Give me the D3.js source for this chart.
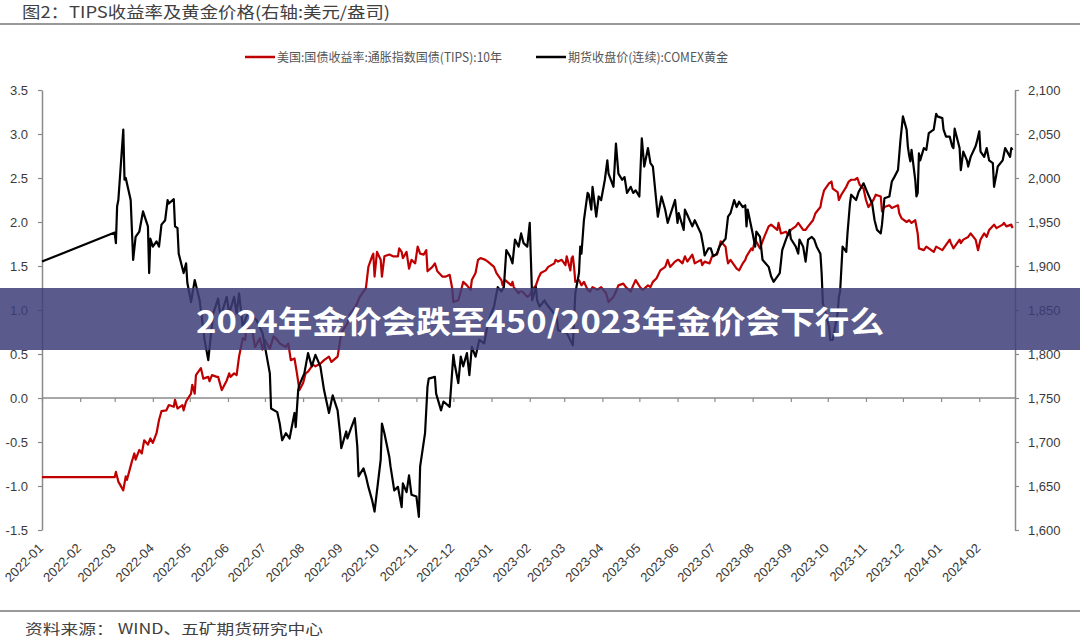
<!DOCTYPE html>
<html><head><meta charset="utf-8">
<script src="https://cdn.jsdelivr.net/npm/d3@7"></script>
<style>
html,body{margin:0;padding:0;background:#fff;}
svg{display:block;}
</style></head>
<body>
<svg id="c" width="1080" height="639"></svg>
<script>
// ---------- DATA ----------
const titleText = "图2：TIPS收益率及黄金价格(右轴:美元/盎司)";
const sourceText = "资料来源：  WIND、五矿期货研究中心";
const bannerText = "2024年金价会跌至450/2023年金价会下行么";
const seriesNames = ["美国:国债收益率:通胀指数国债(TIPS):10年", "期货收盘价(连续):COMEX黄金"];
const leftTicks = [-1.5,-1.0,-0.5,0.0,0.5,1.0,1.5,2.0,2.5,3.0,3.5];
const rightTicks = [1600,1650,1700,1750,1800,1850,1900,1950,2000,2050,2100];
const monthLabels = ["2022-01","2022-02","2022-03","2022-04","2022-05","2022-06","2022-07","2022-08","2022-09","2022-10","2022-11","2022-12",
  "2023-01","2023-02","2023-03","2023-04","2023-05","2023-06","2023-07","2023-08","2023-09","2023-10","2023-11","2023-12","2024-01","2024-02"];

const tipsDates = ["2022-01-01","2022-03-01","2022-03-02","2022-03-04","2022-03-08","2022-03-10","2022-03-11","2022-03-15","2022-03-17","2022-03-18",
"2022-03-21","2022-03-23","2022-03-25","2022-03-28","2022-03-30","2022-04-01","2022-04-04","2022-04-06","2022-04-08","2022-04-12",
"2022-04-14","2022-04-18","2022-04-19","2022-04-21","2022-04-25","2022-04-26","2022-04-28","2022-05-02","2022-05-03","2022-05-05",
"2022-05-06","2022-05-10","2022-05-12","2022-05-16","2022-05-17","2022-05-19","2022-05-23","2022-05-24","2022-05-27","2022-05-31",
"2022-06-02","2022-06-03","2022-06-06","2022-06-08","2022-06-10","2022-06-13","2022-06-15","2022-06-16","2022-06-21","2022-06-23",
"2022-06-27","2022-06-29","2022-07-01","2022-07-05","2022-07-08","2022-07-11","2022-07-13","2022-07-18","2022-07-20","2022-07-22",
"2022-07-25","2022-07-27","2022-07-29","2022-08-01","2022-08-03","2022-08-05","2022-08-09","2022-08-11","2022-08-15","2022-08-18",
"2022-08-22","2022-08-24","2022-08-29","2022-08-30","2022-09-01","2022-09-06","2022-09-08","2022-09-13","2022-09-16","2022-09-21",
"2022-09-23","2022-09-26","2022-09-27","2022-09-28","2022-09-30","2022-10-03","2022-10-04","2022-10-06","2022-10-10","2022-10-13",
"2022-10-17","2022-10-18","2022-10-20","2022-10-21","2022-10-24","2022-10-26","2022-10-28","2022-10-31","2022-11-02","2022-11-04",
"2022-11-07","2022-11-09","2022-11-10","2022-11-14","2022-11-16","2022-11-18","2022-11-22","2022-11-25","2022-11-28","2022-11-30",
"2022-12-01","2022-12-05","2022-12-07","2022-12-09","2022-12-12","2022-12-15","2022-12-16","2022-12-19","2022-12-21","2022-12-23",
"2022-12-27","2022-12-29","2023-01-03","2023-01-05","2023-01-09","2023-01-10","2023-01-12","2023-01-17","2023-01-18","2023-01-19",
"2023-01-23","2023-01-24","2023-01-26","2023-01-30","2023-02-01","2023-02-03","2023-02-06","2023-02-08","2023-02-10","2023-02-14",
"2023-02-16","2023-02-21","2023-02-22","2023-02-24","2023-02-27","2023-03-02","2023-03-03","2023-03-06","2023-03-07","2023-03-08",
"2023-03-09","2023-03-10","2023-03-13","2023-03-15","2023-03-17","2023-03-20","2023-03-22","2023-03-24","2023-03-28","2023-03-31",
"2023-04-04","2023-04-06","2023-04-10","2023-04-12","2023-04-14","2023-04-18","2023-04-20","2023-04-24","2023-04-26","2023-04-28",
"2023-05-02","2023-05-04","2023-05-08","2023-05-10","2023-05-12","2023-05-15","2023-05-18","2023-05-22","2023-05-24","2023-05-26",
"2023-05-30","2023-06-01","2023-06-02","2023-06-05","2023-06-07","2023-06-09","2023-06-13","2023-06-15","2023-06-20","2023-06-21",
"2023-06-23","2023-06-27","2023-06-29","2023-07-03","2023-07-05","2023-07-06","2023-07-10","2023-07-11","2023-07-12","2023-07-14",
"2023-07-17","2023-07-19","2023-07-21","2023-07-24","2023-07-26","2023-07-27","2023-07-31","2023-08-01","2023-08-03","2023-08-07",
"2023-08-09","2023-08-11","2023-08-14","2023-08-16","2023-08-21","2023-08-22","2023-08-24","2023-08-28","2023-08-30","2023-09-01",
"2023-09-05","2023-09-07","2023-09-11","2023-09-13","2023-09-15","2023-09-19","2023-09-21","2023-09-25","2023-09-26","2023-09-28",
"2023-10-02","2023-10-04","2023-10-05","2023-10-09","2023-10-10","2023-10-12","2023-10-16","2023-10-18","2023-10-20","2023-10-23",
"2023-10-25","2023-10-27","2023-10-30","2023-11-01","2023-11-03","2023-11-07","2023-11-09","2023-11-13","2023-11-14","2023-11-16",
"2023-11-20","2023-11-22","2023-11-27","2023-11-28","2023-11-30","2023-12-04","2023-12-06","2023-12-08","2023-12-11","2023-12-13",
"2023-12-14","2023-12-18","2023-12-20","2023-12-22","2023-12-26","2023-12-28","2024-01-02","2024-01-04","2024-01-08","2024-01-09",
"2024-01-11","2024-01-16","2024-01-17","2024-01-19","2024-01-23","2024-01-25","2024-01-29","2024-01-31","2024-02-02","2024-02-05",
"2024-02-07","2024-02-09","2024-02-13","2024-02-15","2024-02-20","2024-02-21","2024-02-23","2024-02-27","2024-02-28"];
const tipsValues = [-0.90,-0.90,-0.84,-0.95,-1.05,-0.89,-0.93,-0.72,-0.63,-0.70,
-0.59,-0.63,-0.48,-0.53,-0.46,-0.51,-0.40,-0.25,-0.15,-0.14,
-0.08,-0.10,-0.02,-0.12,-0.08,-0.14,-0.04,0.05,0.15,0.05,
0.26,0.34,0.22,0.24,0.19,0.26,0.24,0.24,0.09,0.20,
0.28,0.24,0.28,0.26,0.47,0.68,0.66,0.81,0.74,0.58,
0.68,0.55,0.66,0.56,0.70,0.66,0.62,0.58,0.62,0.43,
0.45,0.28,0.09,0.17,0.28,0.30,0.38,0.36,0.39,0.43,
0.47,0.41,0.47,0.56,0.74,0.85,0.95,1.05,1.15,1.25,
1.49,1.61,1.64,1.38,1.66,1.57,1.38,1.61,1.63,1.61,
1.61,1.70,1.66,1.59,1.66,1.47,1.57,1.53,1.72,1.64,
1.63,1.68,1.44,1.49,1.53,1.44,1.38,1.38,1.40,1.25,
1.09,1.11,1.21,1.32,1.28,1.23,1.34,1.42,1.57,1.59,
1.57,1.55,1.49,1.42,1.34,1.28,1.34,1.28,1.32,1.26,
1.19,1.21,1.21,1.15,1.17,1.23,1.28,1.36,1.42,1.45,
1.49,1.53,1.57,1.55,1.57,1.51,1.61,1.45,1.59,1.61,
1.49,1.32,1.34,1.28,1.32,1.23,1.21,1.26,1.23,1.26,
1.19,1.09,1.15,1.21,1.28,1.30,1.26,1.21,1.28,1.34,
1.25,1.23,1.28,1.26,1.32,1.36,1.45,1.49,1.57,1.49,
1.55,1.57,1.57,1.53,1.61,1.55,1.63,1.53,1.57,1.51,
1.55,1.53,1.61,1.63,1.72,1.78,1.72,1.61,1.53,1.57,
1.51,1.47,1.45,1.53,1.57,1.61,1.70,1.68,1.80,1.70,
1.78,1.85,1.95,1.97,1.91,1.99,1.87,1.89,1.85,1.91,
1.95,1.99,1.91,1.91,1.95,2.02,2.10,2.17,2.25,2.36,
2.44,2.46,2.38,2.34,2.25,2.31,2.40,2.46,2.48,2.48,
2.50,2.42,2.38,2.25,2.17,2.25,2.31,2.29,2.12,2.17,
2.19,2.16,2.19,2.10,2.04,2.00,2.02,1.99,2.02,1.87,
1.70,1.68,1.72,1.70,1.66,1.72,1.68,1.72,1.80,1.76,
1.70,1.80,1.76,1.80,1.83,1.87,1.80,1.68,1.80,1.87,
1.83,1.91,1.97,1.93,1.97,1.99,1.95,1.97,1.93];

const goldDates = ["2022-01-01","2022-03-01","2022-03-02","2022-03-03","2022-03-04","2022-03-08","2022-03-09","2022-03-10","2022-03-14","2022-03-16",
"2022-03-18","2022-03-21","2022-03-24","2022-03-28","2022-03-29","2022-03-30","2022-04-01","2022-04-04","2022-04-06","2022-04-08",
"2022-04-11","2022-04-13","2022-04-14","2022-04-18","2022-04-19","2022-04-21","2022-04-22","2022-04-26","2022-04-28","2022-04-29",
"2022-05-02","2022-05-05","2022-05-09","2022-05-13","2022-05-16","2022-05-18","2022-05-20","2022-05-24","2022-05-26","2022-05-31",
"2022-06-02","2022-06-06","2022-06-08","2022-06-10","2022-06-13","2022-06-17","2022-06-24","2022-06-29","2022-07-05","2022-07-06",
"2022-07-11","2022-07-13","2022-07-15","2022-07-18","2022-07-21","2022-07-25","2022-07-26","2022-07-28","2022-07-29","2022-08-02",
"2022-08-05","2022-08-08","2022-08-11","2022-08-15","2022-08-18","2022-08-22","2022-08-25","2022-08-29","2022-08-31","2022-09-01",
"2022-09-05","2022-09-06","2022-09-09","2022-09-12","2022-09-14","2022-09-15","2022-09-19","2022-09-21","2022-09-23","2022-09-26",
"2022-09-28","2022-10-03","2022-10-04","2022-10-06","2022-10-10","2022-10-11","2022-10-14","2022-10-17","2022-10-20","2022-10-21",
"2022-10-24","2022-10-26","2022-10-28","2022-11-01","2022-11-03","2022-11-04","2022-11-08","2022-11-10","2022-11-11","2022-11-16",
"2022-11-17","2022-11-21","2022-11-23","2022-11-28","2022-12-01","2022-12-02","2022-12-05","2022-12-07","2022-12-09","2022-12-12",
"2022-12-14","2022-12-16","2022-12-19","2022-12-22","2022-12-26","2022-12-28","2022-12-30","2023-01-03","2023-01-06","2023-01-09",
"2023-01-11","2023-01-13","2023-01-16","2023-01-18","2023-01-20","2023-01-23","2023-01-25","2023-01-27","2023-01-30","2023-02-01",
"2023-02-03","2023-02-06","2023-02-07","2023-02-09","2023-02-13","2023-02-14","2023-02-23","2023-02-24","2023-03-03","2023-03-08",
"2023-03-10","2023-03-13","2023-03-14","2023-03-15","2023-03-17","2023-03-20","2023-03-21","2023-03-23","2023-03-24","2023-03-27",
"2023-03-29","2023-03-31","2023-04-03","2023-04-05","2023-04-06","2023-04-10","2023-04-12","2023-04-14","2023-04-17","2023-04-19",
"2023-04-21","2023-04-24","2023-04-26","2023-04-28","2023-05-01","2023-05-03","2023-05-05","2023-05-08","2023-05-10","2023-05-12",
"2023-05-16","2023-05-19","2023-05-22","2023-05-24","2023-05-30","2023-06-01","2023-06-02","2023-06-06","2023-06-07","2023-06-09",
"2023-06-13","2023-06-15","2023-06-20","2023-06-22","2023-06-23","2023-06-26","2023-06-28","2023-06-30","2023-07-03","2023-07-05",
"2023-07-07","2023-07-10","2023-07-12","2023-07-14","2023-07-17","2023-07-19","2023-07-21","2023-07-24","2023-07-26","2023-07-27",
"2023-07-28","2023-08-01","2023-08-03","2023-08-04","2023-08-07","2023-08-09","2023-08-14","2023-08-16","2023-08-18","2023-08-21",
"2023-08-23","2023-08-25","2023-08-28","2023-08-31","2023-09-01","2023-09-05","2023-09-07","2023-09-08","2023-09-11","2023-09-13",
"2023-09-15","2023-09-18","2023-09-20","2023-09-22","2023-09-25","2023-09-26","2023-09-27","2023-10-02","2023-10-03","2023-10-05",
"2023-10-09","2023-10-10","2023-10-11","2023-10-13","2023-10-16","2023-10-17","2023-10-19","2023-10-20","2023-10-24","2023-10-26",
"2023-10-30","2023-11-02","2023-11-06","2023-11-08","2023-11-10","2023-11-13","2023-11-14","2023-11-16","2023-11-20","2023-11-22",
"2023-11-24","2023-11-27","2023-11-29","2023-12-01","2023-12-04","2023-12-05","2023-12-06","2023-12-07","2023-12-08","2023-12-11",
"2023-12-12","2023-12-13","2023-12-14","2023-12-15","2023-12-18","2023-12-20","2023-12-22","2023-12-26","2023-12-28","2023-12-29",
"2024-01-02","2024-01-03","2024-01-05","2024-01-08","2024-01-10","2024-01-11","2024-01-12","2024-01-16","2024-01-17","2024-01-19",
"2024-01-22","2024-01-23","2024-01-25","2024-01-29","2024-01-30","2024-02-01","2024-02-02","2024-02-05","2024-02-07","2024-02-09",
"2024-02-12","2024-02-13","2024-02-15","2024-02-16","2024-02-20","2024-02-22","2024-02-26","2024-02-27","2024-02-28"];
const goldValues = [1905,1938,1926,1968,1975,2055,1998,2000,1975,1907,
1933,1939,1962,1945,1892,1931,1922,1928,1922,1947,
1952,1975,1971,1976,1945,1943,1914,1892,1903,1881,
1859,1884,1861,1816,1793,1820,1846,1863,1842,1865,
1846,1865,1846,1869,1831,1846,1839,1824,1778,1738,
1734,1721,1702,1710,1704,1733,1717,1759,1765,1778,
1801,1786,1799,1786,1759,1733,1753,1736,1710,1693,
1712,1704,1716,1727,1695,1661,1670,1661,1649,1634,
1621,1680,1721,1710,1683,1672,1645,1649,1626,1653,
1643,1662,1640,1638,1615,1672,1710,1763,1772,1774,
1755,1736,1746,1740,1799,1789,1767,1797,1786,1801,
1776,1808,1797,1816,1812,1827,1839,1854,1876,1871,
1876,1918,1911,1903,1930,1922,1937,1926,1922,1949,
1861,1876,1861,1854,1861,1858,1842,1827,1824,1810,
1869,1892,1922,1914,1952,1983,1981,1964,1990,1956,
1979,1975,1998,2020,2005,1990,2039,2005,1998,2001,
1983,1990,1983,1986,1979,2045,2013,2034,2017,2013,
1956,1979,1964,1949,1975,1949,1960,1941,1964,1958,
1945,1952,1937,1922,1912,1920,1920,1911,1914,1922,
1926,1931,1956,1960,1975,1967,1973,1967,1969,1945,
1964,1937,1922,1939,1933,1907,1899,1888,1882,1888,
1892,1918,1930,1941,1931,1922,1914,1930,1922,1905,
1930,1933,1930,1922,1914,1892,1858,1831,1816,1816,
1846,1865,1871,1922,1916,1937,1971,1981,1975,1984,
1994,1984,1971,1952,1941,1937,1947,1977,1979,1996,
2001,2009,2043,2070,2055,2036,2026,2019,2032,1998,
1979,1983,2028,2020,2034,2032,2051,2055,2073,2070,
2068,2055,2047,2047,2036,2034,2056,2034,2009,2030,
2020,2013,2024,2036,2041,2053,2030,2024,2034,2020,
2017,1990,2005,2013,2020,2034,2024,2034,2032];

// ---------- CHART ----------
const parse = d3.timeParse("%Y-%m-%d");
const tips = tipsDates.map((d,i)=>({date:parse(d), v:tipsValues[i]}));
const gold = goldDates.map((d,i)=>({date:parse(d), v:goldValues[i]}));
const months = monthLabels.map(m=>parse(m+"-01"));

const svg = d3.select("#c");
const W = 1080, H = 639;
const X0 = 42, X1 = 1015, YT = 90, YB = 530;

const x = d3.scaleTime().domain([parse("2022-01-01"), parse("2024-03-01")]).range([X0, X1]);
const yL = d3.scaleLinear().domain([-1.5, 3.5]).range([YB, YT]);
const yR = d3.scaleLinear().domain([1600, 2100]).range([YB, YT]);

const axisColor = "#8a8a8a";
const textColor = "#3a3a3a";
const numFont = "'Liberation Sans', Arial, sans-serif";
const cjkFont = "'Noto Sans CJK SC', 'Noto Sans', sans-serif";

// header & footer rules
svg.append("line").attr("x1",0).attr("x2",W).attr("y1",24).attr("y2",24).attr("stroke","#777").attr("stroke-width",1.5);
svg.append("line").attr("x1",0).attr("x2",W).attr("y1",611).attr("y2",611).attr("stroke","#777").attr("stroke-width",1.5);

svg.append("text").attr("x",22).attr("y",18).text(titleText)
  .attr("font-family",cjkFont).attr("font-size",16).attr("fill","#404040")
  .attr("textLength",368).attr("lengthAdjust","spacingAndGlyphs");
svg.append("text").attr("x",25).attr("y",634).text(sourceText)
  .attr("font-family",cjkFont).attr("font-size",14).attr("fill","#404040")
  .attr("textLength",298).attr("lengthAdjust","spacingAndGlyphs");

// left axis
const gL = svg.append("g").attr("transform",`translate(${X0},0)`)
  .call(d3.axisLeft(yL).tickValues(leftTicks).tickFormat(d=>d.toFixed(1)).tickSize(4).tickPadding(10).tickSizeOuter(0));
// right axis
const gR = svg.append("g").attr("transform",`translate(${X1},0)`)
  .call(d3.axisRight(yR).tickValues(rightTicks).tickFormat(d3.format(",")).tickSize(4).tickPadding(9).tickSizeOuter(0));
// x axis at zero
const gX = svg.append("g").attr("transform",`translate(0,${yL(0)})`)
  .call(d3.axisBottom(x).tickValues(months).tickFormat("").tickSize(4).tickSizeOuter(0));
[gL,gR,gX].forEach(g=>{
  g.select(".domain").attr("stroke",axisColor).attr("stroke-width",1.5);
  g.selectAll(".tick line").attr("stroke",axisColor).attr("stroke-width",1.2);
  g.selectAll(".tick text").attr("fill",textColor).attr("font-family",numFont).attr("font-size",13);
});
gX.select(".domain").attr("d",`M${X0},0H${X1}`);

// month labels
svg.append("g").selectAll("text").data(months).join("text")
  .attr("transform",d=>`translate(${x(d)+2},${YB+19}) rotate(-45)`)
  .attr("text-anchor","end").attr("font-family",numFont).attr("font-size",13).attr("fill",textColor)
  .text((d,i)=>monthLabels[i]);

// lines
const lineL = d3.line().x(d=>x(d.date)).y(d=>yL(d.v));
const lineR = d3.line().x(d=>x(d.date)).y(d=>yR(d.v));
svg.append("path").datum(tips).attr("d",lineL).attr("fill","none").attr("stroke","#c00000").attr("stroke-width",2.2).attr("stroke-linejoin","round");
svg.append("path").datum(gold).attr("d",lineR).attr("fill","none").attr("stroke","#000").attr("stroke-width",2.2).attr("stroke-linejoin","round");

// legend
const lg = svg.append("g");
lg.append("line").attr("x1",245).attr("x2",275).attr("y1",57).attr("y2",57).attr("stroke","#c00000").attr("stroke-width",2.5);
lg.append("text").attr("x",277).attr("y",61.5).text(seriesNames[0]).attr("font-family",cjkFont).attr("font-size",12.5).attr("fill","#555")
  .attr("textLength",225).attr("lengthAdjust","spacingAndGlyphs");
lg.append("line").attr("x1",536).attr("x2",566).attr("y1",57).attr("y2",57).attr("stroke","#000").attr("stroke-width",2.5);
lg.append("text").attr("x",568).attr("y",61.5).text(seriesNames[1]).attr("font-family",cjkFont).attr("font-size",12.5).attr("fill","#555")
  .attr("textLength",160).attr("lengthAdjust","spacingAndGlyphs");

// banner overlay
svg.append("rect").attr("x",0).attr("y",288).attr("width",W).attr("height",62).attr("fill","rgb(61,61,120)").attr("fill-opacity",0.85);
svg.append("text").attr("x",W/2).attr("y",333).attr("text-anchor","middle").text(bannerText)
  .attr("font-family",cjkFont).attr("font-weight","bold").attr("font-size",31).attr("fill","#fff")
  .attr("textLength",688).attr("lengthAdjust","spacingAndGlyphs");
</script>
</body></html>
